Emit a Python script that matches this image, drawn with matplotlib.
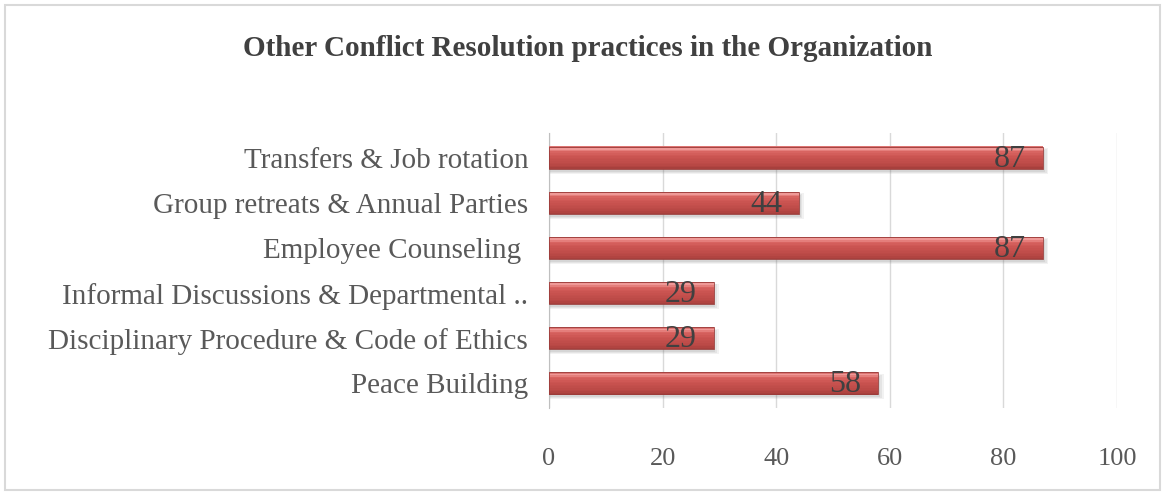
import matplotlib
matplotlib.use("Agg")
import matplotlib.pyplot as plt
from matplotlib.patches import Rectangle
from matplotlib.colors import to_rgb

# Survey responses (percent) per practice, listed bottom to top
categories = [
    "Peace Building",
    "Disciplinary Procedure & Code of Ethics",
    "Informal Discussions & Departmental ..",
    "Employee Counseling ",
    "Group retreats & Annual Parties",
    "Transfers & Job rotation",
]
values = [58, 29, 29, 87, 44, 87]
xticks = [0, 20, 40, 60, 80, 100]
title = "Other Conflict Resolution practices in the Organization"

plt.rcParams["font.family"] = ["Liberation Serif", "DejaVu Serif"]

W, H = 1165, 495
fig = plt.figure(figsize=(W / 100, H / 100), dpi=100)
fig.patch.set_facecolor("white")

# outer chart frame
fig.add_artist(Rectangle((5 / W, 5 / H), 1 - 10 / W, 1 - 10 / H,
                         transform=fig.transFigure, fill=False,
                         edgecolor="#D9D9D9", linewidth=1.5))

left, right = 549 / W, 1117 / W
bottom, top = 1 - 408 / H, 1 - 133 / H
ax = fig.add_axes([left, bottom, right - left, top - bottom])

y = list(range(len(categories)))
h = 0.5


def mix(c1, c2, t):
    a, b = to_rgb(c1), to_rgb(c2)
    return tuple(a[i] + (b[i] - a[i]) * t for i in range(3))


# soft drop shadow
for k, a in enumerate([0.10, 0.12, 0.15]):
    ax.barh([v - 0.07 for v in y], [v + 0.9 - 0.3 * k for v in values],
            height=h + 0.06 - 0.04 * k, color="#808080", alpha=a,
            zorder=2, linewidth=0)

# bar body with vertical shading (top light -> bottom dark)
n = 14
stops = [(0.0, "#A23E3B"), (0.15, "#B74744"), (0.55, "#CB5451"),
         (0.78, "#DA6663"), (0.88, "#F2A09E"), (1.0, "#D4625F")]


def shade(t):
    for (t0, c0), (t1, c1) in zip(stops[:-1], stops[1:]):
        if t0 <= t <= t1:
            return mix(c0, c1, (t - t0) / (t1 - t0))
    return to_rgb(stops[-1][1])


strip = h / n
for i in range(n):
    t = (i + 0.5) / n
    off = -h / 2 + strip * (i + 0.5)
    ax.barh([v + off for v in y], values, height=strip * 1.05,
            color=shade(t), linewidth=0, zorder=3)
ax.barh(y, values, height=h, fill=False, edgecolor="#9A3B39",
        linewidth=0.6, zorder=4)

for yi, v in zip(y, values):
    ax.text(v - 3, yi - 0.03, str(v), ha="right", va="center",
            fontsize=23, color="#404040", zorder=5)

ax.set_xlim(0, 100)
ax.set_ylim(-0.55, len(categories) - 0.45)
ax.set_xticks(xticks)
ax.set_xticklabels([str(t) for t in xticks], fontsize=19, color="#595959")
ax.set_yticks(y)
ax.set_yticklabels(categories, fontsize=21, color="#595959")
ax.tick_params(axis="x", length=0, pad=29)
ax.tick_params(axis="y", length=0, pad=15)
ax.grid(axis="x", color="#D9D9D9", linewidth=1, zorder=0)
ax.set_axisbelow(True)
for s in ["top", "right", "bottom"]:
    ax.spines[s].set_visible(False)
ax.spines["left"].set_color("#BFBFBF")

fig.text(588 / W, 1 - 48 / H, title, ha="center", va="center",
         fontsize=21, fontweight="bold", color="#404040")

fig.savefig("out.png", dpi=100, facecolor="white")
